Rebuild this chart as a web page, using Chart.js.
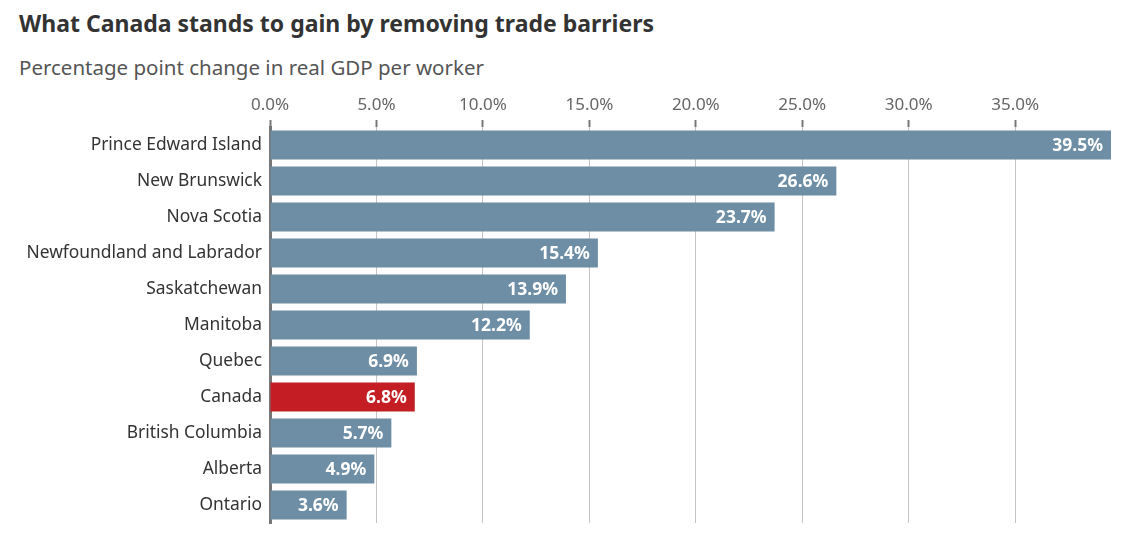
<!DOCTYPE html>
<html lang="en">
<head>
    <meta charset="UTF-8">
    <style>
        * { box-sizing: border-box; margin: 0; padding: 0; }
        body {
            width: 1145px;
            height: 547px;
            background: #fff;
            font-family: "Noto Sans", sans-serif;
            position: relative;
            overflow: hidden;
        }
        .title {
            position: absolute;
            left: 19px;
            top: 7px;
            font-size: 23px;
            font-weight: bold;
            color: #333;
        }
        .subtitle {
            position: absolute;
            left: 19px;
            top: 53px;
            font-size: 20.5px;
            color: #555;
        }
        .chart-box {
            position: absolute;
            left: 0;
            top: 0;
            width: 1145px;
            height: 547px;
        }
    </style>
</head>
<body>
    <div class="title">What Canada stands to gain by removing trade barriers</div>
    <div class="subtitle">Percentage point change in real GDP per worker</div>
    <div class="chart-box"><canvas id="gdpChart"></canvas></div>

    <script src="https://cdn.jsdelivr.net/npm/chart.js@4/dist/chart.umd.min.js"></script>
    <script>
        // データ
        const provinces = ['Prince Edward Island', 'New Brunswick', 'Nova Scotia', 'Newfoundland and Labrador',
            'Saskatchewan', 'Manitoba', 'Quebec', 'Canada', 'British Columbia', 'Alberta', 'Ontario'];
        const gains = [39.5, 26.6, 23.7, 15.4, 13.9, 12.2, 6.9, 6.8, 5.7, 4.9, 3.6];
        const highlight = 'Canada';
        const xTicks = [0, 5, 10, 15, 20, 25, 30, 35];

        const FONT = '"Noto Sans", sans-serif';
        const barColors = provinces.map(p => p === highlight ? '#c41e24' : '#6d8ea4');

        // バー内の値ラベル
        const valueLabels = {
            id: 'valueLabels',
            afterDatasetsDraw(chart) {
                const ctx = chart.ctx;
                const meta = chart.getDatasetMeta(0);
                ctx.save();
                ctx.font = 'bold 17.5px ' + FONT;
                ctx.fillStyle = '#fff';
                ctx.textAlign = 'right';
                ctx.textBaseline = 'middle';
                meta.data.forEach((bar, i) => {
                    ctx.fillText(gains[i].toFixed(1) + '%', bar.x - 8, bar.y + 1);
                });
                ctx.restore();
            }
        };

        new Chart(document.getElementById('gdpChart'), {
            type: 'bar',
            data: {
                labels: provinces,
                datasets: [{
                    data: gains,
                    backgroundColor: barColors,
                    barPercentage: 0.81,
                    categoryPercentage: 1
                }]
            },
            options: {
                indexAxis: 'y',
                responsive: true,
                maintainAspectRatio: false,
                animation: false,
                layout: { padding: { top: 87, right: 34, bottom: 24, left: 0 } },
                plugins: {
                    legend: { display: false },
                    tooltip: { enabled: false }
                },
                scales: {
                    x: {
                        position: 'top',
                        min: 0,
                        max: 39.5,
                        afterBuildTicks: s => { s.ticks = xTicks.map(v => ({ value: v })); },
                        afterFit: s => { s.height = 40; },
                        border: { display: false },
                        grid: {
                            color: '#c4c4c4',
                            lineWidth: 1,
                            tickColor: '#777',
                            tickLength: 7,
                            tickWidth: 2
                        },
                        ticks: {
                            padding: 5,
                            color: '#666',
                            font: { family: FONT, size: 17 },
                            callback: v => v.toFixed(1) + '%'
                        }
                    },
                    y: {
                        afterFit: s => { s.width = 270; },
                        border: { display: true, color: '#777', width: 3 },
                        grid: { display: false },
                        ticks: {
                            padding: 0,
                            color: '#333',
                            font: { family: FONT, size: 17.4 }
                        }
                    }
                }
            },
            plugins: [valueLabels]
        });
    </script>
</body>
</html>
